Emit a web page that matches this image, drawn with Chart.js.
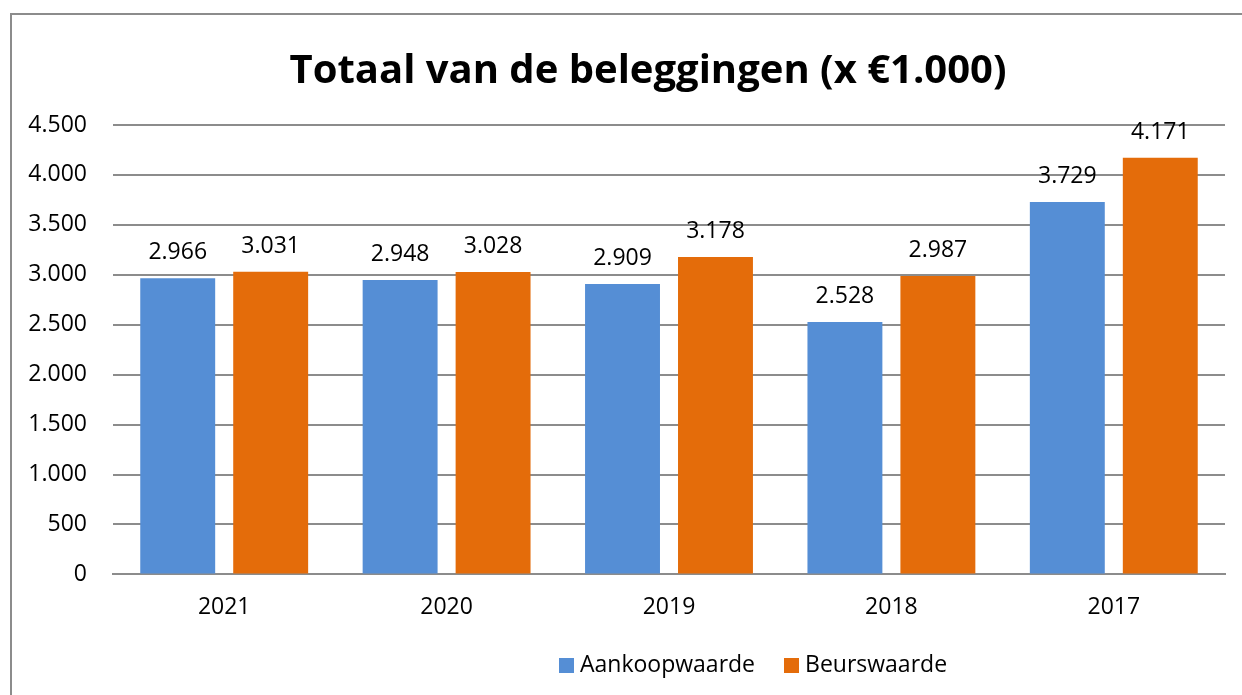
<!DOCTYPE html>
<html>
<head>
<meta charset="utf-8">
<script src="https://cdn.jsdelivr.net/npm/chart.js@4"></script>
<style>
  html, body { margin: 0; padding: 0; background: #fff; overflow: hidden; }
  body { width: 1242px; height: 695px; position: relative; }
  #frame { position: absolute; left: 10px; top: 13px; width: 1272px; height: 690px; border: 2px solid #8c8c8c; }
  #legend { position: absolute; left: 559px; top: 647px; font-family: "Open Sans", sans-serif; font-size: 23px; color: #000; white-space: nowrap; }
  #legend span.item { display: inline-block; margin-right: 29px; }
  #legend span.box { display: inline-block; width: 15px; height: 15px; margin-right: 6px; vertical-align: -1px; }
</style>
</head>
<body>
<div id="frame">
  <canvas id="beleggingenChart" width="1272" height="690"></canvas>
</div>
<div id="legend"></div>
<script>
const jaren = ['2021', '2020', '2019', '2018', '2017'];
const aankoopwaarde = [2966, 2948, 2909, 2528, 3729];
const beurswaarde = [3031, 3028, 3178, 2987, 4171];
const seriesNamen = ['Aankoopwaarde', 'Beurswaarde'];
const kleuren = ['#558ed5', '#e46c0a'];

const fmt = v => v.toLocaleString('nl-NL');

// labels boven de staven
const waardeLabels = {
  id: 'waardeLabels',
  afterDatasetsDraw(chart) {
    const ctx = chart.ctx;
    ctx.save();
    ctx.font = '23px "Open Sans"';
    ctx.fillStyle = '#000';
    ctx.textAlign = 'center';
    ctx.textBaseline = 'alphabetic';
    chart.data.datasets.forEach((ds, i) => {
      chart.getDatasetMeta(i).data.forEach((bar, j) => {
        ctx.fillText(fmt(ds.data[j]), bar.x, bar.y - 19);
      });
    });
    ctx.restore();
  }
};

const ctx = document.getElementById('beleggingenChart').getContext('2d');
new Chart(ctx, {
  type: 'bar',
  data: {
    labels: jaren,
    datasets: [
      { label: seriesNamen[0], data: aankoopwaarde, backgroundColor: kleuren[0] },
      { label: seriesNamen[1], data: beurswaarde, backgroundColor: kleuren[1] }
    ]
  },
  options: {
    responsive: false,
    animation: false,
    layout: { padding: { left: 0, right: 0, top: 0, bottom: 65 } },
    datasets: { bar: { categoryPercentage: 0.836, barPercentage: 0.806 } },
    plugins: {
      legend: { display: false },
      tooltip: { enabled: false },
      title: {
        display: true,
        text: 'Totaal van de beleggingen (x €1.000)',
        color: '#000',
        font: { family: '"Open Sans"', size: 40, weight: 'bold', lineHeight: 1.2 },
        padding: { top: 33, bottom: 29 }
      }
    },
    scales: {
      x: {
        grid: { display: false, drawTicks: false },
        border: { display: true, color: '#8c8c8c', width: 2 },
        ticks: { color: '#000', font: { family: '"Open Sans"', size: 23 }, padding: 19 }
      },
      y: {
        min: 0,
        max: 4500,
        grid: { color: '#8c8c8c', lineWidth: 2, drawTicks: false },
        border: { display: false },
        ticks: {
          stepSize: 500,
          color: '#000',
          padding: 26,
          font: { family: '"Open Sans"', size: 23 },
          callback: v => fmt(v)
        },
        afterFit(scale) { scale.width = 101; }
      },
      // lege rechteras als marge rechts van het plotvlak
      rechts: {
        position: 'right',
        grid: { display: false, drawTicks: false },
        border: { display: false },
        ticks: { display: false },
        afterFit(scale) { scale.width = 59; }
      }
    }
  },
  plugins: [waardeLabels]
});

// legenda
const legend = document.getElementById('legend');
seriesNamen.forEach((naam, i) => {
  const item = document.createElement('span');
  item.className = 'item';
  const box = document.createElement('span');
  box.className = 'box';
  box.style.background = kleuren[i];
  item.appendChild(box);
  item.appendChild(document.createTextNode(naam));
  legend.appendChild(item);
});
</script>
</body>
</html>
